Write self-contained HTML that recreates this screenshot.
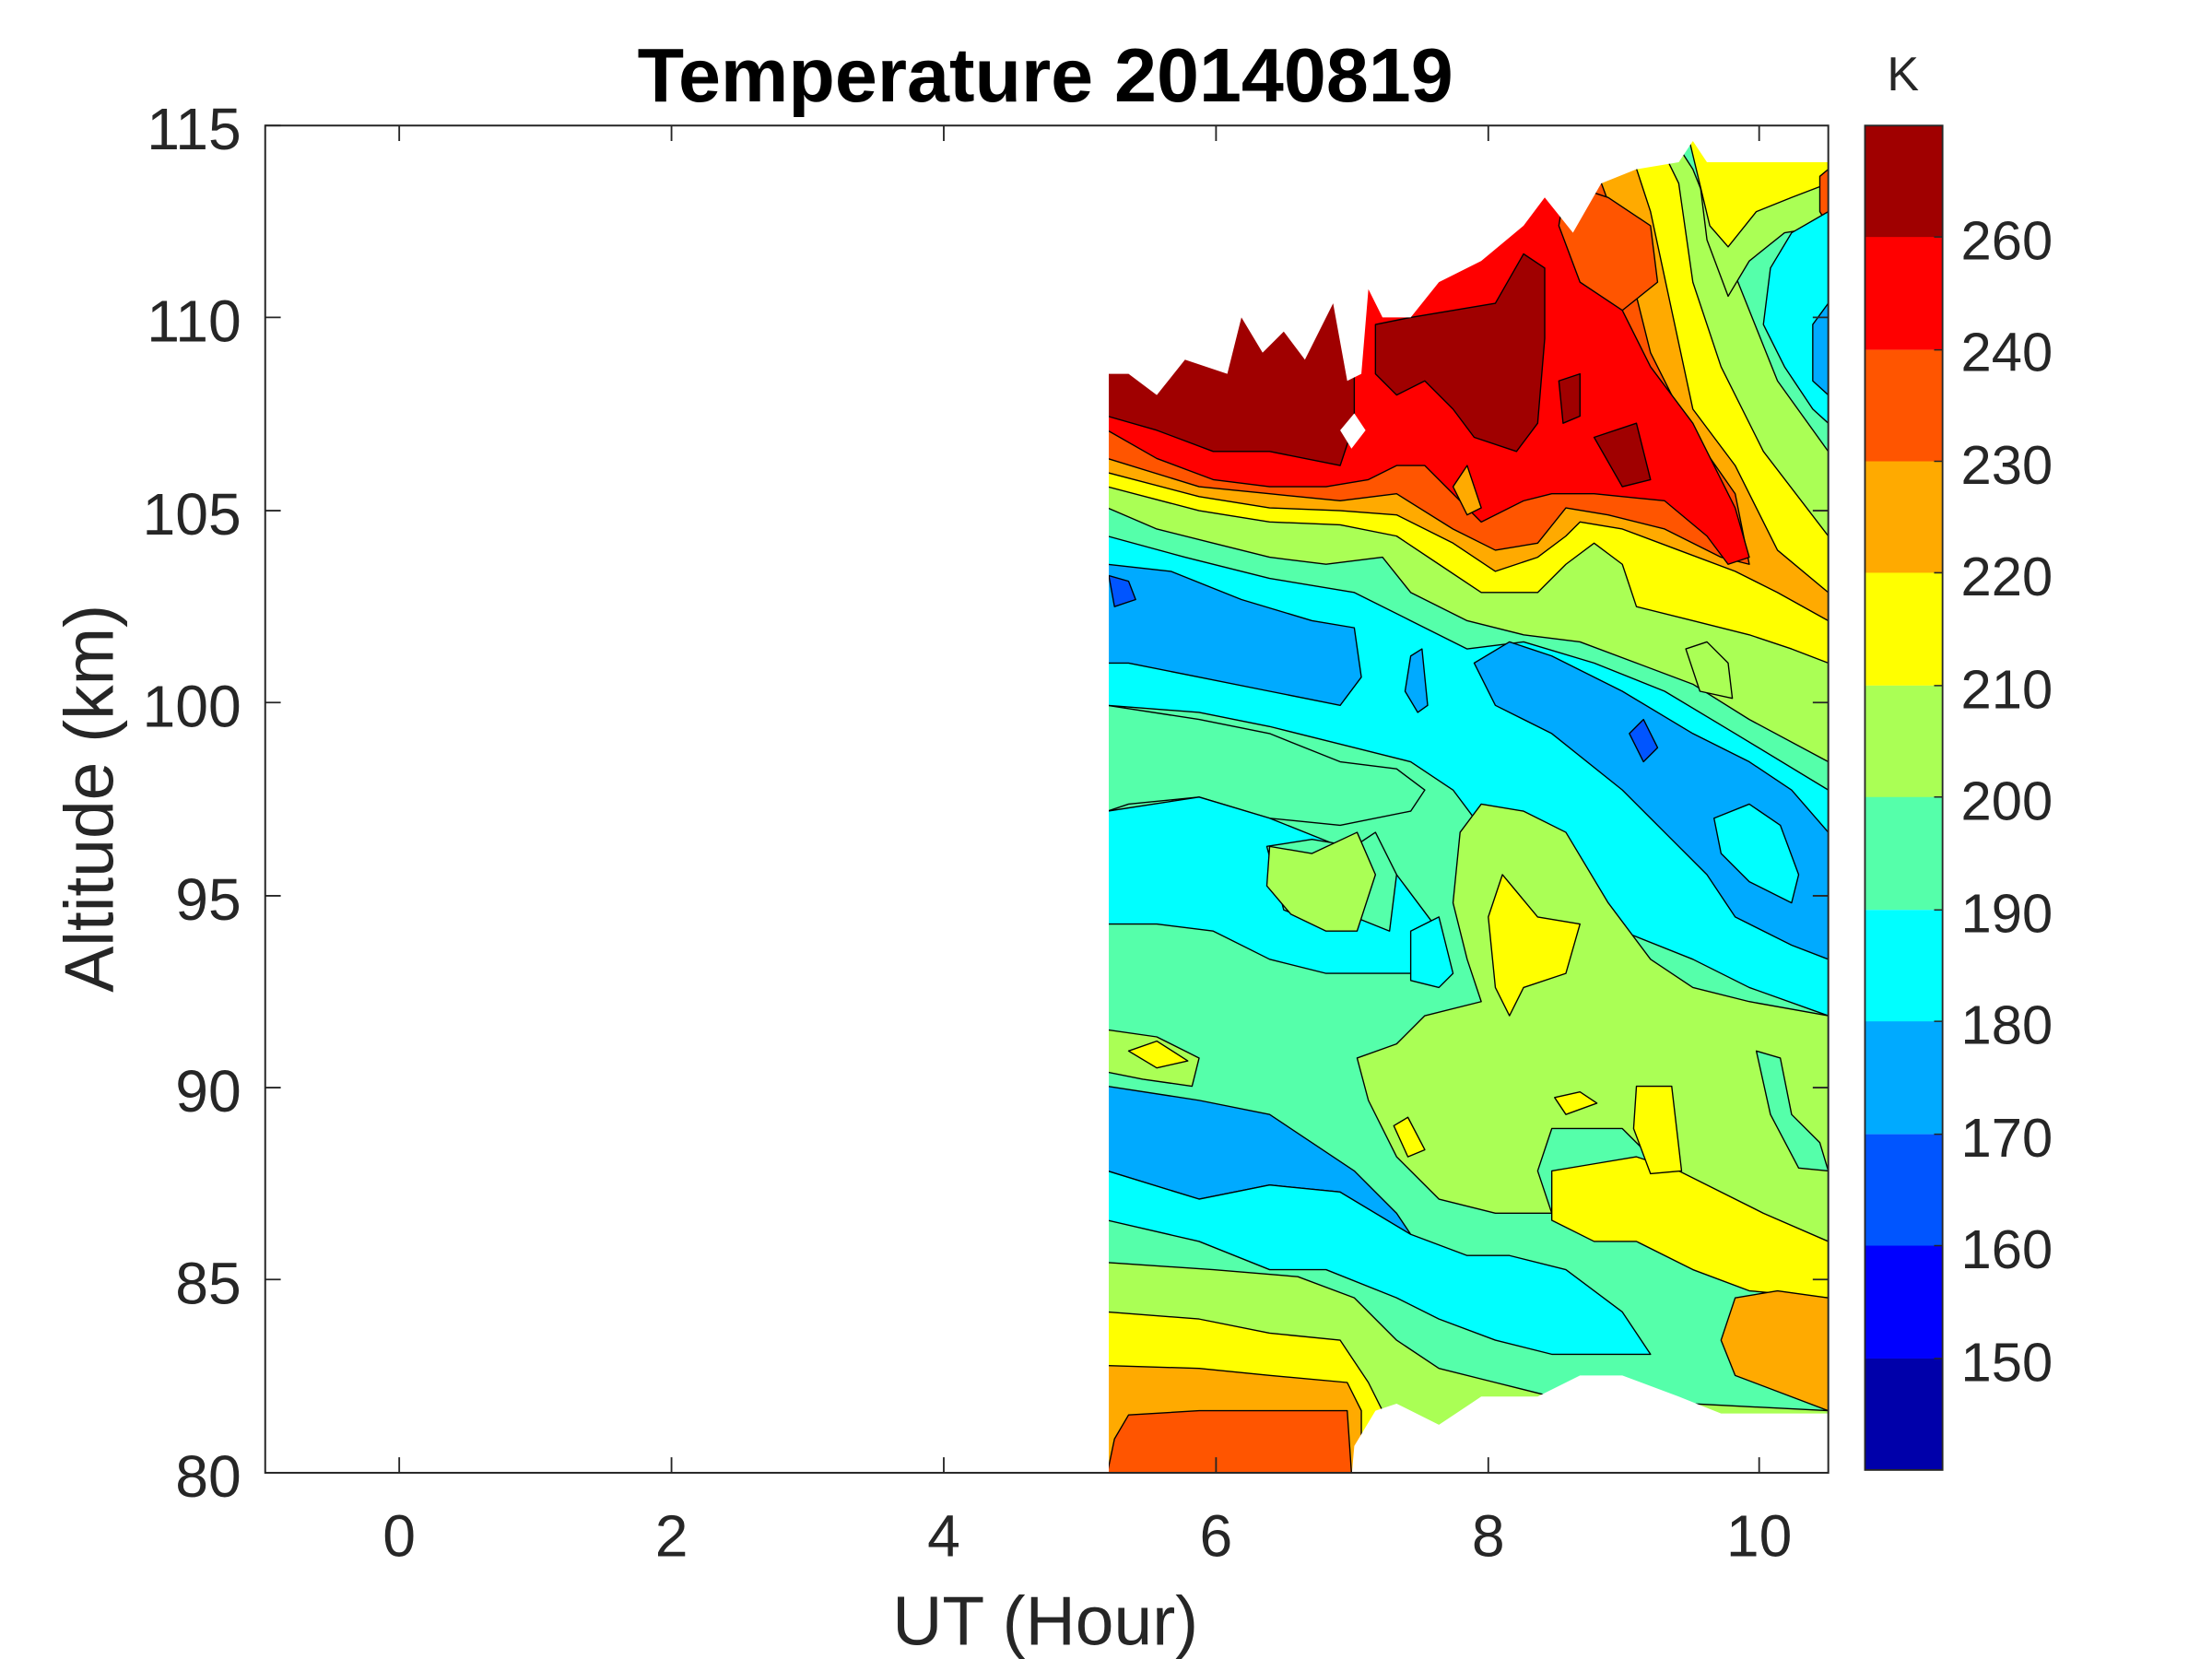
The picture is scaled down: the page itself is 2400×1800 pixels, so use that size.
<!DOCTYPE html>
<html><head><meta charset="utf-8"><style>html,body{margin:0;padding:0;background:#fff}svg{display:block}</style></head>
<body>
<svg width="2400" height="1800" viewBox="0 0 1568 1176" preserveAspectRatio="none" xmlns="http://www.w3.org/2000/svg" font-family="Liberation Sans, Arial, sans-serif">
<defs><clipPath id="c"><rect x="786" y="89" width="510" height="955"/></clipPath></defs>
<rect width="1568" height="1176" fill="#fff"/>
<g stroke="#000" stroke-width="0.9" stroke-linejoin="round" clip-path="url(#c)">
<rect x="785" y="89" width="511" height="955" fill="#55ffaa" stroke="none"/>
<polygon fill="#aaff55" points="785,89 1180,89 1200,120 1220,170 1240,220 1260,270 1296,320 1296,540 1240,510 1200,485 1160,470 1120,455 1080,450 1040,440 1000,420 980,395 940,400 900,395 860,385 820,375 785,360"/>
<polygon fill="#aaff55" points="1200,89 1296,89 1296,160 1265,165 1240,185 1225,210 1210,170"/>
<polygon fill="#ffff00" points="1195,89 1296,89 1296,130 1270,140 1245,150 1225,175 1212,160"/>
<polygon fill="#ff5500" points="1290,125 1296,120 1296,160 1290,150"/>
<polygon fill="#00ffff" points="1296,150 1270,165 1255,190 1250,230 1265,260 1285,290 1296,300"/>
<polygon fill="#00aaff" points="1296,215 1285,230 1285,270 1296,280"/>
<polygon fill="#ffff00" points="785,89 1170,89 1190,130 1200,200 1220,260 1250,320 1296,380 1296,470 1270,460 1240,450 1200,440 1160,430 1150,400 1130,385 1110,400 1090,420 1050,420 1020,400 990,380 950,372 900,370 850,362 785,345"/>
<polygon fill="#aaff55" points="1195,460 1210,455 1225,470 1228,495 1205,490"/>
<polygon fill="#ffaa00" points="785,89 1150,89 1170,150 1185,220 1200,290 1230,330 1260,390 1296,420 1296,440 1260,420 1230,405 1190,390 1150,375 1120,370 1110,380 1090,395 1060,405 1030,385 990,365 950,362 900,360 850,352 785,335"/>
<polygon fill="#ff5500" points="785,89 1120,89 1150,170 1170,250 1195,300 1230,350 1240,400 1220,395 1180,375 1140,365 1110,360 1090,385 1060,390 1030,375 990,350 950,355 900,350 850,345 785,325"/>
<polygon fill="#ff0000" points="785,89 1100,89 1130,180 1170,260 1200,300 1230,360 1240,395 1225,400 1210,380 1180,355 1130,350 1100,350 1080,355 1050,370 1030,350 1010,330 990,330 970,340 940,345 900,345 860,340 820,325 785,305"/>
<polygon fill="#ffaa00" points="1030,345 1040,330 1050,360 1040,365"/>
<polygon fill="#ff5500" points="1110,130 1140,140 1170,160 1175,200 1150,220 1120,200 1105,160"/>
<polygon fill="#a00000" points="785,89 960,89 960,300 950,330 900,320 860,320 820,305 785,295"/>
<polygon fill="#a00000" points="975,230 1000,225 1060,215 1080,180 1095,190 1095,240 1090,300 1075,320 1045,310 1030,290 1010,270 990,280 975,265"/>
<polygon fill="#a00000" points="1130,310 1160,300 1170,340 1150,345"/>
<polygon fill="#a00000" points="1105,270 1120,265 1120,295 1108,300"/>
<polygon fill="#00ffff" points="785,380 840,395 900,410 960,420 1000,440 1040,460 1080,455 1130,470 1180,490 1230,520 1296,560 1296,720 1240,700 1200,680 1150,660 1100,640 1060,600 1030,560 1000,540 960,530 900,515 850,505 785,500"/>
<polygon fill="#00aaff" points="785,400 830,405 880,425 930,440 960,445 965,480 950,500 900,490 850,480 800,470 785,470"/>
<polygon fill="#0055ff" points="786,408 800,412 805,425 790,430"/>
<polygon fill="#00aaff" points="1000,465 1008,460 1012,500 1005,505 996,490"/>
<polygon fill="#00aaff" points="1045,470 1070,455 1100,465 1150,490 1200,520 1240,540 1270,560 1296,590 1296,680 1270,670 1230,650 1210,620 1180,590 1150,560 1100,520 1060,500"/>
<polygon fill="#00ffff" points="1215,580 1240,570 1262,585 1275,620 1270,640 1240,625 1220,605"/>
<polygon fill="#0055ff" points="1155,520 1165,510 1175,530 1165,540"/>
<polygon fill="#55ffaa" points="785,500 850,510 900,520 950,540 990,545 1010,560 1000,575 950,585 900,580 850,565 800,570 785,575"/>
<polygon fill="#00ffff" points="785,575 850,565 900,580 950,600 990,620 1020,660 1000,690 940,690 900,680 860,660 820,655 785,655"/>
<polygon fill="#55ffaa" points="898,600 930,595 960,600 975,590 990,620 985,660 960,650 935,655 910,645"/>
<polygon fill="#aaff55" points="900,600 930,605 962,590 975,620 962,660 940,660 915,648 898,628"/>
<polygon fill="#aaff55" points="1035,590 1050,570 1080,575 1110,590 1140,640 1170,680 1200,700 1240,710 1296,720 1296,880 1260,880 1230,860 1200,850 1170,820 1150,800 1100,800 1090,830 1100,860 1060,860 1020,850 990,820 970,780 962,750 990,740 1010,720 1050,710 1040,680 1030,640"/>
<polygon fill="#55ffaa" points="1245,745 1262,750 1270,790 1290,810 1296,830 1275,828 1255,790"/>
<polygon fill="#ffff00" points="1055,650 1065,620 1090,650 1120,655 1110,690 1080,700 1070,720 1060,700"/>
<polygon fill="#00ffff" points="1000,660 1020,650 1030,690 1020,700 1000,695"/>
<polygon fill="#ffff00" points="1100,830 1130,825 1160,820 1190,830 1220,845 1250,860 1296,880 1296,920 1240,915 1200,900 1160,880 1130,880 1100,865"/>
<polygon fill="#ffff00" points="1160,770 1185,770 1192,830 1170,832 1158,800"/>
<polygon fill="#ffff00" points="988,798 998,792 1010,815 998,820"/>
<polygon fill="#ffff00" points="1102,778 1120,774 1132,782 1110,790"/>
<polygon fill="#ffaa00" points="1230,920 1260,915 1296,920 1296,1000 1230,975 1220,950"/>
<polygon fill="#aaff55" points="785,730 820,735 850,750 845,770 810,765 785,760"/>
<polygon fill="#ffff00" points="800,745 820,738 842,752 820,757"/>
<polygon fill="#00aaff" points="785,770 850,780 900,790 930,810 960,830 990,860 1000,875 980,870 950,845 900,840 850,850 785,830"/>
<polygon fill="#00ffff" points="785,830 850,850 900,840 950,845 1000,875 1040,890 1070,890 1110,900 1150,930 1170,960 1140,960 1100,960 1060,950 1020,935 990,920 940,900 900,900 850,880 785,865"/>
<polygon fill="#aaff55" points="785,895 860,900 920,905 960,920 990,950 1020,970 1060,980 1100,990 1296,1000 1296,1044 785,1044"/>
<polygon fill="#ffff00" points="785,930 850,935 900,945 950,950 970,980 980,1000 1000,1010 1000,1044 785,1044"/>
<polygon fill="#ffaa00" points="785,968 850,970 900,975 955,980 965,1000 965,1044 785,1044"/>
<polygon fill="#ff5500" points="790,1020 800,1003 850,1000 900,1000 955,1000 958,1044 785,1044"/>
</g>
<polygon fill="#fff" points="780,85 780,265 800,265 820,280 840,255 870,265 880,225 895,250 910,235 925,255 945,215 955,270 965,265 970,205 980,225 1000,225 1020,200 1050,185 1080,160 1095,140 1115,165 1135,130 1160,120 1190,115 1200,100 1210,115 1300,115 1300,85"/>
<polygon fill="#fff" points="950,305 960,293 968,305 958,318"/>
<polygon fill="#fff" points="958,1048 960,1025 975,1000 990,995 1020,1010 1050,990 1090,990 1120,975 1150,975 1190,990 1220,1002 1300,1002 1300,1048"/>
<rect x="188" y="89" width="1108" height="955" fill="none" stroke="#262626" stroke-width="1.3"/>
<g stroke="#262626" stroke-width="1.2">
<path d="M283,1044v-11M476,1044v-11M669,1044v-11M862,1044v-11M1055,1044v-11M1247,1044v-11M283,89v11M476,89v11M669,89v11M862,89v11M1055,89v11M1247,89v11"/>
<path d="M188,89h11M188,225h11M188,362h11M188,498h11M188,635h11M188,771h11M188,907h11M1296,225h-11M1296,362h-11M1296,498h-11M1296,635h-11M1296,771h-11M1296,907h-11"/>
</g>
<g font-size="42" fill="#262626">
<g text-anchor="end">
<text x="171" y="106">115</text><text x="171" y="242">110</text><text x="171" y="379">105</text><text x="171" y="515">100</text><text x="171" y="652">95</text><text x="171" y="788">90</text><text x="171" y="924">85</text><text x="171" y="1061">80</text>
</g>
<g text-anchor="middle">
<text x="283" y="1103">0</text><text x="476" y="1103">2</text><text x="669" y="1103">4</text><text x="862" y="1103">6</text><text x="1055" y="1103">8</text><text x="1247" y="1103">10</text>
</g>
</g>
<text x="741" y="1166" text-anchor="middle" font-size="49" fill="#262626">UT (Hour)</text>
<text transform="translate(80,566) rotate(-90)" text-anchor="middle" font-size="49" fill="#262626">Altitude (km)</text>
<text x="741" y="72" text-anchor="middle" font-size="54" font-weight="bold" fill="#000">Temperature 20140819</text>
<g>
<rect x="1322" y="89" width="55" height="80" fill="#a00000"/>
<rect x="1322" y="168" width="55" height="80" fill="#ff0000"/>
<rect x="1322" y="248" width="55" height="80" fill="#ff5500"/>
<rect x="1322" y="327" width="55" height="80" fill="#ffaa00"/>
<rect x="1322" y="406" width="55" height="80" fill="#ffff00"/>
<rect x="1322" y="486" width="55" height="80" fill="#aaff55"/>
<rect x="1322" y="565" width="55" height="80" fill="#55ffaa"/>
<rect x="1322" y="645" width="55" height="80" fill="#00ffff"/>
<rect x="1322" y="724" width="55" height="80" fill="#00aaff"/>
<rect x="1322" y="804" width="55" height="80" fill="#0055ff"/>
<rect x="1322" y="883" width="55" height="80" fill="#0000ff"/>
<rect x="1322" y="963" width="55" height="79" fill="#0000aa"/>
<rect x="1322" y="89" width="55" height="953" fill="none" stroke="#262626" stroke-width="1.2"/>
<path stroke="#262626" stroke-width="1" d="M1377,168h-6M1377,248h-6M1377,327h-6M1377,406h-6M1377,486h-6M1377,565h-6M1377,645h-6M1377,724h-6M1377,804h-6M1377,883h-6M1377,963h-6"/>
</g>
<g font-size="39" fill="#262626">
<text x="1390" y="184">260</text><text x="1390" y="263">240</text><text x="1390" y="343">230</text><text x="1390" y="422">220</text><text x="1390" y="502">210</text><text x="1390" y="581">200</text><text x="1390" y="661">190</text><text x="1390" y="740">180</text><text x="1390" y="820">170</text><text x="1390" y="899">160</text><text x="1390" y="979">150</text>
</g>
<text x="1349" y="64" text-anchor="middle" font-size="34" fill="#262626">K</text>
</svg>
</body></html>
